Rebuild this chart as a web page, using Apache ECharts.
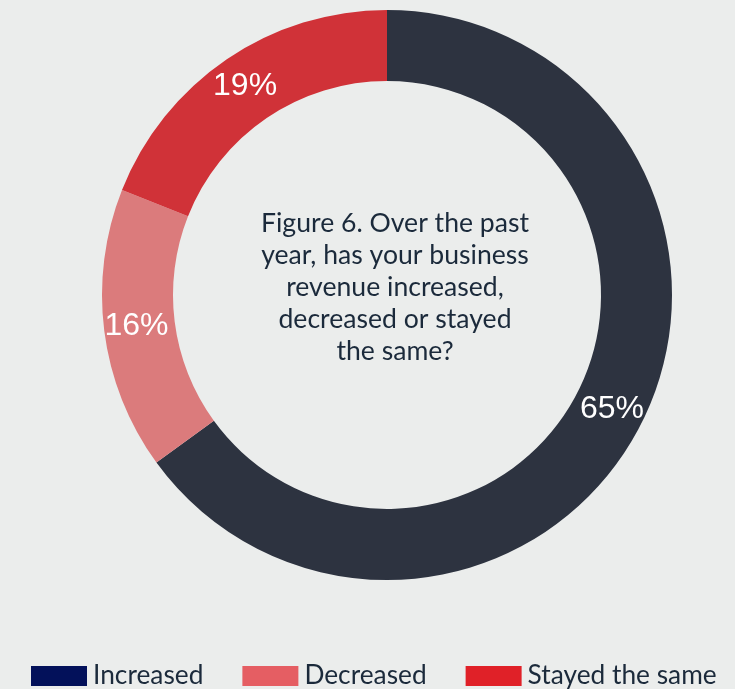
<!DOCTYPE html>
<html>
<head>
<meta charset="utf-8">
<script src="https://cdn.jsdelivr.net/npm/echarts@6/dist/echarts.min.js"></script>
<style>
  html, body { margin: 0; padding: 0; background: #ebedec; }
  #chart { width: 735px; height: 689px; }
</style>
</head>
<body>
<div id="chart"></div>
<script>
// Survey responses: change in business revenue over the past year
const categories = ['Increased', 'Decreased', 'Stayed the same'];
const shares = [65, 16, 19];
const sliceColors = ['#2d3340', '#db7b7c', '#d03238'];
const legendColors = ['#03115a', '#e55e63', '#e02128'];
const centerLines = [
  'Figure 6. Over the past',
  'year, has your business',
  'revenue increased,',
  'decreased or stayed',
  'the same?'
];

const chart = echarts.init(document.getElementById('chart'), null, { renderer: 'canvas' });

chart.setOption({
  backgroundColor: '#ebedec',
  animation: false,
  legend: {
    left: 31,
    top: 663,
    padding: 0,
    itemWidth: 56,
    itemHeight: 20,
    itemGap: 39,
    icon: 'rect',
    textStyle: { fontFamily: 'Lato', fontSize: 26.3, color: '#1b2a3b', padding: [0, 0, 0, 1] },
    data: categories.map((name, i) => ({ name, itemStyle: { color: legendColors[i] } }))
  },
  graphic: [{
    type: 'text',
    style: {
      x: 395,
      y: 287,
      text: centerLines.join('\n'),
      font: '26.6px Lato',
      fill: '#1b2a3b',
      align: 'center',
      verticalAlign: 'middle',
      lineHeight: 32
    }
  }],
  series: [{
    type: 'pie',
    center: [387, 295],
    radius: [214, 285],
    startAngle: 90,
    clockwise: true,
    avoidLabelOverlap: false,
    label: {
      show: true,
      position: 'inside',
      formatter: '{c}%',
      color: '#ffffff',
      fontFamily: 'Liberation Sans',
      fontSize: 32
    },
    labelLine: { show: false },
    emphasis: { disabled: true },
    data: categories.map((name, i) => ({
      name,
      value: shares[i],
      itemStyle: { color: sliceColors[i] }
    }))
  }]
});
</script>
</body>
</html>
